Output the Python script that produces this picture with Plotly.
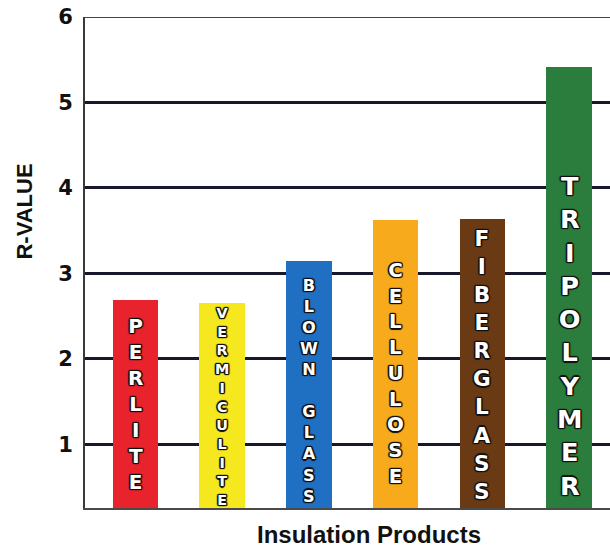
import plotly.graph_objects as go

# Insulation products and their R-values (per inch)
products = ["PERLITE", "VERMICULITE", "BLOWN GLASS", "CELLULOSE", "FIBERGLASS", "TRIPOLYMER"]
r_values = [2.69, 2.65, 3.15, 3.62, 3.64, 5.42]
y_ticks = [1, 2, 3, 4, 5, 6]

# Bar styling
bar_colors = ["#e8232b", "#f5e81f", "#1f6fc2", "#f7aa1c", "#6a3a15", "#2a7d3c"]
# Stacked-letter label styling: font size and offset (px) of label centre below bar top
label_sizes = [20, 14.4, 16.2, 19.8, 21.6, 25.6]
label_offsets = [104, 103, 130, 153, 146, 269]

# Dark outline around the white letters, built from text shadows
OUTLINE = ", ".join(
    f"{dx}px {dy}px 0.8px #111"
    for dx, dy in [(1.2, 0), (-1.2, 0), (0, 1.2), (0, -1.2),
                   (1, 1), (-1, -1), (1, -1), (-1, 1)]
)

x_pos = list(range(len(products)))

fig = go.Figure()
fig.add_trace(
    go.Bar(
        x=x_pos,
        y=r_values,
        width=0.525,
        marker=dict(color=bar_colors, line=dict(width=0)),
        hoverinfo="skip",
    )
)

annotations = []
for xi, name, val, size, off in zip(x_pos, products, r_values, label_sizes, label_offsets):
    letters = [c if c != " " else "\u00a0" for c in name]
    annotations.append(
        dict(
            x=xi,
            y=val,
            xref="x",
            yref="y",
            text="<br>".join(letters),
            showarrow=False,
            xanchor="center",
            yanchor="middle",
            yshift=-off,
            align="center",
            font=dict(family="DejaVu Sans", size=size, color="white", weight="bold", shadow=OUTLINE),
        )
    )

# Axis titles
annotations.append(
    dict(
        text="Insulation Products",
        xref="paper",
        yref="paper",
        x=0.541,
        y=0,
        yshift=-26.5,
        xanchor="center",
        yanchor="middle",
        showarrow=False,
        font=dict(family="Liberation Sans", size=24, color="#111", weight="bold"),
    )
)
annotations.append(
    dict(
        text="R-VALUE",
        xref="paper",
        yref="paper",
        x=-0.116,
        y=0.604,
        xanchor="center",
        yanchor="middle",
        textangle=-90,
        showarrow=False,
        font=dict(family="Liberation Sans", size=22, color="#111", weight="bold"),
    )
)

fig.update_layout(
    width=610,
    height=550,
    autosize=False,
    margin=dict(l=85, r=0, t=17, b=42),
    paper_bgcolor="white",
    plot_bgcolor="white",
    showlegend=False,
    bargap=0,
    annotations=annotations,
    shapes=[
        dict(
            type="line",
            xref="paper",
            yref="y",
            x0=0,
            x1=1,
            y0=6,
            y1=6,
            line=dict(color="#444444", width=2),
        )
    ],
)

fig.update_xaxes(
    range=[-0.58, 5.47],
    showticklabels=False,
    showgrid=False,
    zeroline=False,
    showline=True,
    linecolor="#4a4a4a",
    linewidth=2,
    ticks="",
)

fig.update_yaxes(
    range=[0.257, 6.0],
    tickvals=y_ticks,
    ticktext=[str(v) for v in y_ticks],
    showgrid=True,
    gridcolor="#17172e",
    gridwidth=3,
    zeroline=False,
    showline=True,
    linecolor="#3a3a3a",
    linewidth=2,
    ticks="",
    ticklabelstandoff=6,
    tickfont=dict(family="DejaVu Sans", size=21, color="#111", weight="bold"),
)

fig.write_html("out.html")
